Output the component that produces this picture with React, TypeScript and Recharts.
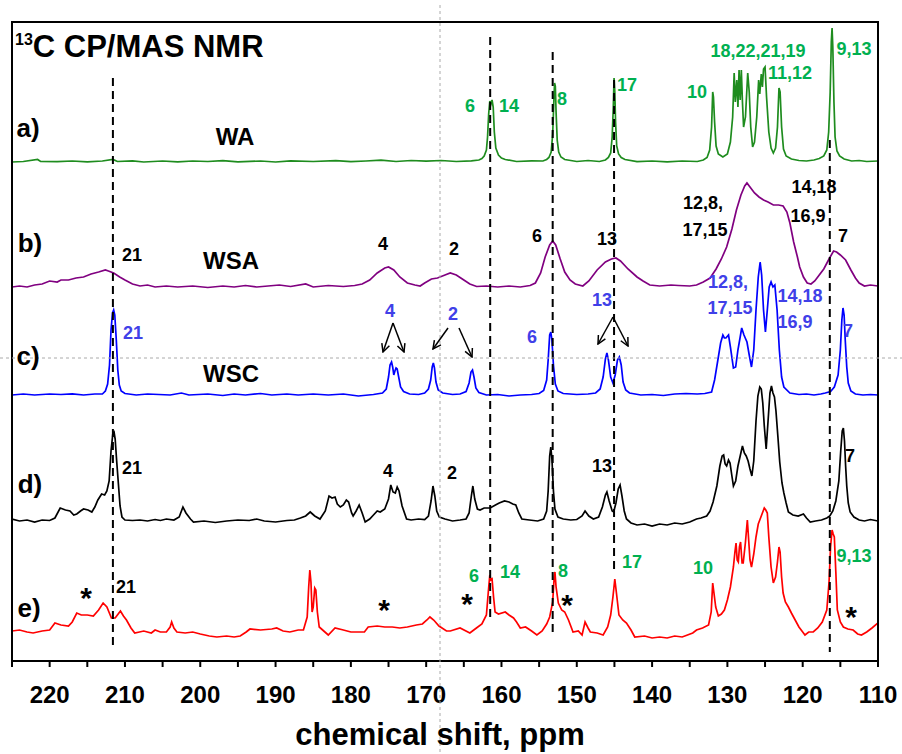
import { LineChart, Line, XAxis, YAxis, ReferenceLine } from 'recharts';

// chemical shift axis
const PPM_TICKS = [225, 220, 215, 210, 205, 200, 195, 190, 185, 180, 175, 170, 165, 160, 155, 150, 145, 140, 135, 130, 125, 120, 115, 110];

// [ppm, intensity above own baseline]
const WA: [number, number][] = [
  [225, 0], [223.5, 0.5], [221.6, 2.5], [221.2, 0.5], [219, 0.3], [217, 1], [215, 0.2], [213, 1], [211.6, 2.5], [211, 0.5],
  [209, 1.2], [207.5, 0], [205, 1], [203, 0.2], [201, 1], [199, 0.5], [197, 1.3], [195, 0.2], [192, 1], [190, 0], [188, 1.2],
  [185, 0.5], [182, 1.4], [180, 0.3], [178, 1], [176, 1.8], [174, 0.5], [172, 1.5], [170, 0.8], [168, 1.5], [166, 0.5], [164, 1.2],
  [163, 2], [162.6, 3.5], [162.3, 6], [162.0, 12], [161.85, 25], [161.7, 48], [161.55, 61], [161.4, 58], [161.25, 62], [161.1, 55],
  [160.95, 30], [160.75, 14], [160.4, 7], [160.0, 4], [159.5, 2.5], [158, 0.5], [156, 1.2], [154.5, 1], [154, 2.5], [153.7, 4.5],
  [153.4, 10], [153.2, 28], [153.05, 60], [152.95, 79], [152.85, 76], [152.75, 50], [152.6, 22], [152.4, 10], [152.1, 5],
  [151.6, 2.5], [150, 0.5], [148.5, 1.5], [147, 0.5], [146.2, 2], [145.8, 4.5], [145.5, 9], [145.3, 25], [145.15, 55], [145.05, 84],
  [144.95, 70], [144.85, 40], [144.7, 16], [144.45, 8], [144.1, 4.5], [143.6, 2.5], [142, 0.3], [140, 1], [138, 0.2], [136, 1],
  [134, 0.5], [133.2, 2], [132.7, 4.5], [132.35, 12], [132.1, 35], [131.95, 70], [131.85, 65], [131.7, 40], [131.5, 16],
  [131.2, 8], [130.6, 5], [130.0, 8], [129.6, 20], [129.3, 45], [129.1, 89], [128.95, 60], [128.75, 82], [128.6, 55], [128.45, 92],
  [128.3, 62], [128.15, 92], [128.0, 60], [127.85, 35], [127.6, 45], [127.3, 89], [127.1, 70], [126.9, 35], [126.65, 15],
  [126.4, 20], [126.1, 45], [125.85, 82], [125.7, 68], [125.5, 88], [125.35, 75], [125.2, 93], [125.0, 95], [124.8, 65], [124.5, 30],
  [124.2, 14], [123.9, 9], [123.6, 14], [123.35, 35], [123.15, 74], [123.0, 70], [122.8, 35], [122.55, 13], [122.2, 6],
  [121.5, 3], [120.5, 1.5], [119.5, 1], [118.5, 2], [117.8, 3.5], [117.2, 6], [116.8, 12], [116.55, 30], [116.35, 70],
  [116.2, 120], [116.1, 134], [116.0, 115], [115.85, 60], [115.7, 25], [115.45, 11], [115.1, 6], [114.5, 3], [113.5, 1],
  [112.5, 1.5], [111.5, 0.5], [110, 1],
];

const WSA: [number, number][] = [
  [225, 0], [224, 1], [223, 0], [222, 2], [221, 3], [220, 6], [219, 5], [218.5, 7], [217.5, 7], [216.5, 9], [215.5, 10], [214.5, 13],
  [213.5, 15], [212.6, 17], [212.2, 16], [211.5, 14], [210.7, 10], [210, 7], [209, 3], [208, 1], [207, 2], [206, 0], [204.5, 1],
  [203, 0], [201, 1], [199, -0.5], [197, 1], [195.5, 0], [194, 1.5], [192.5, 0], [191, 1], [189.5, 2], [188, 0.5], [186, 3], [185, 0],
  [183, 1.5], [181, 0.5], [179.5, 1.5], [178.5, 3], [177.5, 7], [176.5, 14], [175.5, 19], [175.0, 20], [174.3, 17], [173.5, 10],
  [172.5, 4], [171.5, 2], [170.8, 1], [170.2, 4], [169.3, 8], [168.5, 9], [167.5, 12], [166.8, 14], [166.0, 12], [165.2, 8],
  [164.2, 3], [163.3, 0.5], [162, 1], [160.5, 0], [159, 1], [157.5, 0], [156.2, 1.5], [155.5, 4], [154.8, 14], [154.2, 30],
  [153.6, 42], [153.2, 46], [152.8, 42], [152.2, 28], [151.6, 15], [150.9, 7], [150.2, 3], [149.2, 1], [148.4, 6], [147.3, 17],
  [146.2, 25], [145.4, 28], [144.8, 29], [144.2, 26], [143.2, 18], [142.0, 10], [141.2, 6], [140.3, 2], [139, 1], [137.5, 2],
  [136.5, 1.5], [135, 1], [134.1, 2], [133.2, 5], [132.3, 9], [131.5, 18], [130.8, 28], [130.1, 40], [129.4, 58], [128.8, 77],
  [128.2, 92], [127.7, 101], [127.4, 104], [127.0, 100], [126.4, 94], [125.8, 90], [125.2, 87], [124.6, 85], [123.9, 82], [123.2, 82],
  [122.6, 81], [122.1, 75], [121.7, 64], [121.2, 45], [120.7, 30], [120.4, 20], [119.9, 10], [119.4, 4], [118.9, 3], [118.4, 6],
  [118.0, 10], [117.2, 18], [116.5, 28], [115.9, 36], [115.5, 35], [115.0, 32], [114.3, 27], [113.6, 17], [113.0, 9], [112.5, 4],
  [111.8, 1], [111, 2], [110, 1],
];

const WSC: [number, number][] = [
  [225, 0], [223.5, 1], [222, 0], [220, 1], [218.5, 0.5], [217, 1.2], [215.5, 0], [214, 1], [213, 1], [212.6, 4], [212.3, 11],
  [212.05, 30], [211.85, 65], [211.65, 82], [211.5, 85], [211.35, 80], [211.15, 55], [210.95, 25], [210.75, 10], [210.5, 4], [210, 1.5],
  [208.5, 0], [207, 1], [205.5, 0.5], [204, 0], [202.5, 2], [201.5, 0], [199, 1], [197, -0.5], [195.5, 1], [194, 0], [192, 1.5],
  [190.5, 0], [188.5, 1], [187, 0], [185, 1], [183, 0], [181, 1], [179, -1], [177, 0.5], [175.8, 2], [175.3, 6], [175.0, 18],
  [174.8, 30], [174.6, 33], [174.45, 28], [174.3, 20], [174.15, 24], [174.0, 27], [173.85, 26], [173.65, 18], [173.4, 8], [173.0, 3.5],
  [172.2, 1], [171, 0.5], [170.2, 2], [169.7, 6], [169.4, 15], [169.2, 28], [169.05, 32], [168.9, 27], [168.7, 13], [168.4, 5],
  [167.8, 2], [166.5, 0.5], [165.5, 1], [164.7, 3.5], [164.3, 12], [164.05, 23], [163.85, 25], [163.65, 18], [163.4, 7], [163.0, 2.5],
  [162, 0], [160.5, 0.5], [159, -1], [157.5, 0], [156, 0.5], [155, 1.5], [154.4, 4.5], [154.0, 15], [153.8, 35], [153.6, 60],
  [153.45, 63], [153.3, 55], [153.1, 30], [152.85, 11], [152.5, 4], [151.8, 1.5], [150, 0.5], [148.5, 1], [147.5, 2], [146.9, 6],
  [146.5, 18], [146.2, 36], [146.0, 42], [145.8, 35], [145.5, 18], [145.2, 12], [144.9, 20], [144.6, 35], [144.35, 38], [144.1, 30],
  [143.85, 13], [143.5, 5], [143, 2], [141.5, 0], [140, 0.5], [138.5, -0.5], [137, 1], [135.5, 1.5], [134, 1], [133, 1.5],
  [132.1, 3], [131.7, 15], [131.2, 38], [130.9, 52], [130.6, 60], [130.4, 57], [130.2, 57], [129.85, 60], [129.6, 48], [129.2, 27],
  [128.9, 28], [128.6, 45], [128.3, 58], [128.1, 67], [127.8, 60], [127.4, 53], [127.1, 40], [126.8, 28], [126.5, 45], [126.2, 85],
  [125.9, 118], [125.65, 133], [125.45, 120], [125.2, 85], [124.95, 63], [124.7, 85], [124.45, 108], [124.2, 113], [123.95, 108],
  [123.7, 110], [123.4, 85], [123.1, 45], [122.8, 18], [122.5, 8], [121.7, 2], [120.5, 0.5], [119.5, 1], [118.5, 0], [117.6, 1],
  [117.0, 2], [116.3, 3.5], [115.8, 8], [115.3, 20], [115.0, 45], [114.8, 75], [114.65, 87], [114.5, 80], [114.35, 55],
  [114.15, 28], [113.95, 12], [113.6, 4], [113.0, 1], [112, 0], [111, 0.5], [110, 0],
];

const SAMPLE_D: [number, number][] = [
  [225, 2], [224, 0], [223, 1], [222, -1], [221, 1], [220, 0.5], [219.3, 3], [218.6, 13], [217.9, 11], [217.3, 10], [216.8, 6],
  [216.4, 7], [215.9, 10], [215.5, 12], [214.9, 11], [214.4, 9], [214.0, 14], [213.6, 21], [213.1, 27], [212.7, 26], [212.4, 30],
  [212.1, 40], [211.85, 70], [211.6, 88], [211.45, 89], [211.3, 82], [211.1, 60], [210.9, 40], [210.65, 15], [210.4, 4], [210, 1],
  [209, 0.5], [208, 1], [207, 0], [206, 1.5], [205.3, 0.5], [204.5, 2], [203.5, 1], [202.8, 4], [202.3, 14], [201.9, 8], [201.3, 2],
  [200.9, -1], [199.5, 0], [198, -1.5], [196.5, 0], [195, 1], [193.5, 0.5], [192.5, 2], [191.5, 0], [190, -1], [188.5, 0.5],
  [187.5, 1], [186.7, 3], [186, 5], [185.4, 9], [184.8, 5], [184.1, 2], [183.4, 10], [182.9, 25], [182.5, 23], [182.1, 24],
  [181.8, 17], [181.4, 14], [181.0, 16], [180.6, 21], [180.3, 19], [179.9, 8], [179.7, 5], [179.3, 10], [178.9, 16], [178.5, 8],
  [178.1, -1], [177.5, 2], [177, 6], [176.5, 10], [176.1, 9], [175.5, 12], [175.0, 22], [174.7, 36], [174.4, 29], [174.1, 28],
  [173.85, 34], [173.6, 30], [173.2, 15], [172.6, 2], [172, 1], [171, 2], [170.2, 1.5], [169.7, 5], [169.35, 20], [169.1, 35],
  [168.85, 25], [168.6, 10], [168.25, 4], [167.5, 2], [166.5, 0], [165.5, 1], [164.7, 2], [164.3, 8], [164.0, 25], [163.8, 35],
  [163.55, 22], [163.2, 12], [162.85, 11], [162.3, 13], [161.5, 13], [160.8, 16], [160.3, 18], [159.6, 20], [159.0, 19], [158.5, 17],
  [158.1, 16], [157.7, 8], [157.3, 2], [156.3, 1], [155.2, 0], [154.4, 2], [154.0, 10], [153.8, 30], [153.6, 65], [153.45, 74],
  [153.3, 62], [153.1, 30], [152.9, 12], [152.5, 4], [151.8, 2], [150.8, 1], [150, 1.5], [149.3, 5], [148.9, 10], [148.4, 5],
  [147.8, 2], [147.1, 4], [146.6, 14], [146.2, 26], [146.0, 29], [145.7, 20], [145.3, 10], [145.1, 9], [144.8, 18], [144.5, 32],
  [144.25, 36], [144.0, 25], [143.7, 10], [143.4, 2], [142.8, -2], [142.0, -4], [141.0, -3], [140.0, -5], [139, -3], [138, -4],
  [137, -2], [136, -3], [135, -1], [134.1, 2], [133.5, 3], [132.75, 5], [132.3, 10], [131.9, 19], [131.4, 35], [131.0, 55],
  [130.7, 65], [130.5, 66], [130.3, 57], [130.1, 55], [129.85, 61], [129.65, 58], [129.4, 45], [129.2, 35], [128.9, 40], [128.6, 55],
  [128.3, 65], [128.0, 75], [127.75, 68], [127.5, 65], [127.25, 60], [127.0, 52], [126.75, 45], [126.5, 60], [126.2, 100],
  [125.95, 125], [125.7, 134], [125.5, 132], [125.3, 118], [125.1, 95], [124.85, 72], [124.6, 100], [124.35, 128], [124.15, 135],
  [123.95, 128], [123.75, 124], [123.55, 110], [123.3, 85], [123.05, 59], [122.75, 38], [122.5, 28], [122.2, 18], [121.9, 9],
  [121.3, 6], [120.6, 5], [119.9, 7], [119.5, 3], [119.0, -1], [118.3, 0], [117.5, 1], [116.8, 3], [116.4, 5], [116.0, 10],
  [115.6, 20], [115.2, 40], [114.95, 70], [114.75, 90], [114.6, 93], [114.45, 80], [114.3, 55], [114.15, 35], [113.95, 18],
  [113.7, 9], [113.2, 4], [112.5, 1], [111.8, 0], [111, 1.5], [110, 0],
];

const SAMPLE_E: [number, number][] = [
  [225, 1], [224, 2], [223, 0], [222.2, -1], [221, 1], [220, 2], [219.3, 9], [218.5, 7], [217.5, 6], [217.0, 10], [216.4, 19],
  [215.8, 17], [215.0, 17], [214.2, 16], [213.5, 22], [212.9, 29], [212.4, 25], [211.8, 14], [211.3, 14], [210.9, 18], [210.6, 21],
  [210.2, 16], [209.8, 12], [209.2, 4], [208.7, -1], [207.5, 1], [206.5, -1], [206.0, 2], [205.3, 0], [204.5, 0], [204.0, 5],
  [203.8, 10], [203.5, 4], [203.1, 0], [202, -1], [201, 0], [200, -2], [198.8, -4], [197.8, -5], [196.5, -4], [195.5, -5],
  [194.7, -4], [193.9, 0], [193.4, 3], [192, 2], [190.5, 3], [189.85, 4], [189, 1], [188.1, 0], [187, 2], [186.3, 2], [185.8, 15],
  [185.6, 45], [185.45, 62], [185.3, 50], [185.15, 20], [185.0, 25], [184.8, 44], [184.65, 42], [184.45, 20], [184.2, 5],
  [183.6, 1], [183.0, -3], [182.1, 4], [181, 2], [180, 0], [178.8, 0], [178.2, 0], [177.7, 5], [176.5, 6], [175.5, 5], [174.5, 5],
  [173.5, 4], [172.5, 5], [171.3, 7], [170.5, 8], [169.9, 12], [169.5, 15], [169.0, 12], [168.3, 6], [167.3, 1], [166.8, 1],
  [165.5, 4], [164.2, -1], [163.5, 3], [162.6, 8], [162.0, 17], [161.75, 40], [161.55, 57], [161.4, 52], [161.25, 53], [161.05, 35],
  [160.85, 20], [160.4, 18], [159.5, 20], [159.0, 17], [158.4, 14], [158.0, 10], [157.5, 4], [156.8, 5], [156.0, 1], [155.3, -3],
  [154.6, 1], [154.0, 8], [153.6, 15], [153.2, 30], [153.0, 55], [152.9, 60], [152.75, 45], [152.45, 29], [152.0, 22], [151.6, 20],
  [151.1, 12], [150.5, 0], [149.8, 1], [149.3, -3], [148.9, 10], [148.5, 4], [148.2, 0], [147.3, -1], [146.5, -3], [145.9, 5],
  [145.5, 17], [145.2, 35], [144.95, 53], [144.75, 40], [144.4, 17], [143.9, 12], [143.4, 9], [142.8, 2], [142.3, -5], [141, -4],
  [140, -6], [139, -5], [138, -6], [137, -4], [136, -5], [135.3, -3], [134.6, -1], [134.1, 2], [133.3, 4], [132.5, 7], [132.15, 20],
  [131.95, 49], [131.8, 40], [131.55, 25], [131.2, 16], [130.8, 18], [130.4, 22], [130.0, 32], [129.6, 45], [129.2, 65], [129.0, 80],
  [128.85, 89], [128.7, 72], [128.55, 70], [128.4, 85], [128.25, 90], [128.05, 69], [127.9, 69], [127.6, 90], [127.35, 112],
  [127.2, 95], [127.0, 72], [126.8, 65], [126.5, 78], [126.2, 95], [125.9, 108], [125.7, 112], [125.4, 118], [125.1, 124],
  [124.9, 122], [124.7, 119], [124.5, 95], [124.2, 65], [123.9, 49], [123.6, 55], [123.35, 70], [123.15, 85], [123.0, 80],
  [122.8, 55], [122.6, 39], [122.3, 30], [121.9, 25], [121.5, 19], [121.0, 12], [120.5, 5], [120.0, 0], [119.7, -3], [119.2, 0],
  [118.6, 0], [118.0, 4], [117.4, 10], [116.8, 22], [116.5, 50], [116.3, 85], [116.1, 102], [115.95, 98], [115.8, 95], [115.6, 60],
  [115.4, 22], [115.0, 10], [114.6, 5], [114.0, 3], [113.3, 2], [112.7, -2], [112.2, -3], [111.5, 0], [110.8, 4], [110, 9],
];

// vertical offsets of the stacked traces
const OFFSETS = { a: 499, b: 374, c: 266, d: 140, e: 29 };

// dashed guide lines: ppm, from, to (chart units)
const GUIDES: [number, number, number][] = [
  [211.6, 583, 14],
  [161.5, 624, 39],
  [153.2, 609, 24],
  [145.05, 581, 88],
  [116.4, 521, 9],
];

const stack = (pts: [number, number][], off: number) => pts.map(([x, v]) => ({ x, y: v + off }));

const FONT = '"Liberation Sans", Arial, sans-serif';
const GREEN = '#00b050';
const BLUE = '#4040e8';

type Lbl = { t: string; x: number; y: number; c?: string; s?: number };

const LABELS: Lbl[] = [
  { t: 'a)', x: 28, y: 137, s: 26 },
  { t: 'WA', x: 235, y: 145, s: 24 },
  { t: 'b)', x: 30, y: 252, s: 26 },
  { t: 'WSA', x: 231, y: 269, s: 24 },
  { t: 'c)', x: 28, y: 365, s: 26 },
  { t: 'WSC', x: 231, y: 382, s: 24 },
  { t: 'd)', x: 30, y: 493, s: 26 },
  { t: 'e)', x: 29, y: 617, s: 26 },
  // a
  { t: '6', x: 470, y: 112, c: GREEN },
  { t: '14', x: 509, y: 112, c: GREEN },
  { t: '8', x: 562, y: 105, c: GREEN },
  { t: '17', x: 627, y: 91, c: GREEN },
  { t: '10', x: 697, y: 98, c: GREEN },
  { t: '18,22,21,19', x: 758, y: 57, c: GREEN },
  { t: '11,12', x: 790, y: 79, c: GREEN },
  { t: '9,13', x: 854, y: 55, c: GREEN },
  // b
  { t: '21', x: 132, y: 261 },
  { t: '4', x: 383, y: 250 },
  { t: '2', x: 454, y: 255 },
  { t: '6', x: 537, y: 242 },
  { t: '13', x: 607, y: 245 },
  { t: '12,8,', x: 703, y: 209 },
  { t: '17,15', x: 705, y: 236 },
  { t: '14,18', x: 814, y: 193 },
  { t: '16,9', x: 808, y: 222 },
  { t: '7', x: 843, y: 242 },
  // c
  { t: '21', x: 133, y: 339, c: BLUE },
  { t: '4', x: 390, y: 317, c: BLUE },
  { t: '2', x: 453, y: 320, c: BLUE },
  { t: '6', x: 532, y: 343, c: BLUE },
  { t: '13', x: 602, y: 306, c: BLUE },
  { t: '12,8,', x: 728, y: 288, c: BLUE },
  { t: '17,15', x: 730, y: 314, c: BLUE },
  { t: '14,18', x: 800, y: 302, c: BLUE },
  { t: '16,9', x: 795, y: 328, c: BLUE },
  { t: '7', x: 848, y: 337, c: BLUE },
  // d
  { t: '21', x: 132, y: 474 },
  { t: '4', x: 388, y: 477 },
  { t: '2', x: 452, y: 479 },
  { t: '13', x: 602, y: 472 },
  { t: '7', x: 850, y: 462 },
  // e
  { t: '21', x: 126, y: 593 },
  { t: '6', x: 474, y: 582, c: GREEN },
  { t: '14', x: 510, y: 578, c: GREEN },
  { t: '8', x: 563, y: 577, c: GREEN },
  { t: '17', x: 632, y: 568, c: GREEN },
  { t: '10', x: 703, y: 574, c: GREEN },
  { t: '9,13', x: 854, y: 562, c: GREEN },
  { t: '*', x: 86, y: 608, s: 30 },
  { t: '*', x: 384, y: 620, s: 30 },
  { t: '*', x: 467, y: 614, s: 30 },
  { t: '*', x: 567, y: 615, s: 30 },
  { t: '*', x: 851, y: 627, s: 30 },
];

const ARROWS: [number, number, number, number][] = [
  [393, 323, 383, 352], [393, 323, 404, 352],
  [448, 328, 433, 349], [459, 328, 472, 357],
  [613, 317, 598, 344], [613, 317, 628, 346],
];

export default function App() {
  return (
    <div style={{ position: 'absolute', left: 0, top: 0, width: 902, height: 754, background: '#fff' }}>
      <LineChart width={902} height={754} margin={{ top: 22, right: 24, bottom: 0, left: 12 }}>
        <XAxis
          type="number"
          dataKey="x"
          domain={[110, 225]}
          reversed
          ticks={PPM_TICKS}
          interval={0}
          tickFormatter={(v: number) => (v % 10 === 0 ? String(v) : '')}
          height={93}
          tickSize={6}
          tickMargin={19}
          axisLine={{ stroke: '#000', strokeWidth: 2 }}
          tickLine={{ stroke: '#000', strokeWidth: 2 }}
          tick={{ fontSize: 24, fontWeight: 'bold', fill: '#000', fontFamily: FONT }}
          allowDataOverflow
        />
        <YAxis type="number" domain={[0, 639]} width={0} tick={false} tickLine={false} axisLine={{ stroke: '#000', strokeWidth: 2 }} allowDataOverflow />
        <Line data={stack(WA, OFFSETS.a)} dataKey="y" type="linear" stroke="#1e8c1e" strokeWidth={1.7} dot={false} isAnimationActive={false} />
        <Line data={stack(WSA, OFFSETS.b)} dataKey="y" type="linear" stroke="#800080" strokeWidth={1.7} dot={false} isAnimationActive={false} />
        <Line data={stack(WSC, OFFSETS.c)} dataKey="y" type="linear" stroke="#0000ff" strokeWidth={1.7} dot={false} isAnimationActive={false} />
        <Line data={stack(SAMPLE_D, OFFSETS.d)} dataKey="y" type="linear" stroke="#000" strokeWidth={1.7} dot={false} isAnimationActive={false} />
        <Line data={stack(SAMPLE_E, OFFSETS.e)} dataKey="y" type="linear" stroke="#ff0000" strokeWidth={1.7} dot={false} isAnimationActive={false} />
        {GUIDES.map(([p, y1, y2], i) => (
          <ReferenceLine key={i} segment={[{ x: p, y: y1 }, { x: p, y: y2 }]} stroke="#000" strokeWidth={2} strokeDasharray="8 5" />
        ))}
      </LineChart>
      <svg width={902} height={754} style={{ position: 'absolute', left: 0, top: 0, pointerEvents: 'none' }}>
        <defs>
          <marker id="ah" markerWidth="10" markerHeight="10" refX="9" refY="5" orient="auto" markerUnits="userSpaceOnUse">
            <path d="M1,1 L9,5 L1,9" fill="none" stroke="#000" strokeWidth={1.5} />
          </marker>
        </defs>
        <rect x={12} y={22} width={866} height={639} fill="none" stroke="#000" strokeWidth={2} />
        <line x1={440} y1={5} x2={440} y2={754} stroke="#aaa" strokeWidth={1} strokeDasharray="3 3" />
        <line x1={0} y1={358} x2={902} y2={358} stroke="#aaa" strokeWidth={1} strokeDasharray="3 3" />
        <text x={15} y={57} fontFamily={FONT} fontWeight="bold" fill="#000">
          <tspan fontSize={16} dy={-12}>13</tspan>
          <tspan fontSize={31} dy={12}>C CP/MAS NMR</tspan>
        </text>
        {LABELS.map((l, i) => (
          <text key={i} x={l.x} y={l.y} textAnchor="middle" fontFamily={FONT} fontWeight="bold" fontSize={l.s ?? 18} fill={l.c ?? '#000'}>
            {l.t}
          </text>
        ))}
        {ARROWS.map(([x1, y1, x2, y2], i) => (
          <line key={i} x1={x1} y1={y1} x2={x2} y2={y2} stroke="#000" strokeWidth={1.5} markerEnd="url(#ah)" />
        ))}
        <text x={440} y={745} textAnchor="middle" fontFamily={FONT} fontWeight="bold" fontSize={31} fill="#000">
          chemical shift, ppm
        </text>
      </svg>
    </div>
  );
}
